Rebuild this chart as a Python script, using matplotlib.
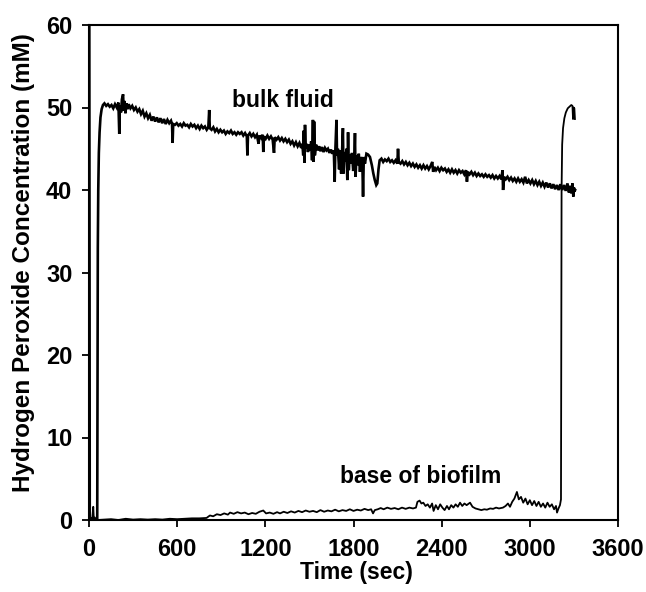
import matplotlib
matplotlib.use("Agg")
import matplotlib.pyplot as plt

# ---- data ----
bulk_t = [56, 57, 58, 60, 63, 67, 72, 78, 86, 95,
          105, 117, 129, 141, 153, 165, 177, 189, 200, 206, 210, 218, 224, 232, 236, 242, 248, 254, 262, 270,
          282, 294, 306, 318, 330, 342, 354, 366, 378, 390, 402, 414, 426, 438, 450, 462, 474, 486, 498, 510,
          522, 534, 546, 558, 565, 569, 573, 585,
          597, 609, 621, 633, 645, 657, 669, 681, 693, 705, 717, 729, 741, 753, 765, 777, 789, 801, 812, 818,
          822, 834, 846, 858, 870, 882, 894, 906, 918, 930, 942, 954, 966, 978, 990, 1002, 1014, 1026, 1038,
          1050, 1062, 1074, 1078, 1082, 1094, 1106,
          1118, 1130, 1142, 1154, 1160, 1172, 1182, 1186, 1190, 1202, 1214, 1226, 1238, 1250, 1259, 1264,
          1276, 1288, 1300, 1312, 1324, 1336, 1348, 1360, 1372, 1384, 1396, 1408, 1420, 1432, 1444, 1452,
          1458, 1462, 1466, 1470, 1475, 1482, 1490, 1498, 1506, 1512, 1518, 1524, 1528, 1532, 1537, 1545,
          1556, 1566, 1575, 1586, 1596, 1606, 1616, 1626, 1636, 1646, 1656, 1666, 1672, 1676, 1684, 1688,
          1694, 1702, 1708, 1716, 1722, 1728, 1732, 1738, 1746, 1752, 1758, 1763, 1768, 1774, 1782, 1790,
          1798, 1806, 1810, 1814, 1820, 1828, 1836, 1844, 1852, 1860, 1865, 1870, 1878, 1888, 1899, 1912,
          1925, 1935, 1945, 1955, 1962, 1970, 1978, 1990, 2002, 2014, 2026, 2038, 2050, 2062, 2074, 2086,
          2098, 2103, 2108, 2120, 2132, 2144, 2156, 2168, 2180, 2192, 2204, 2216, 2228, 2240, 2252, 2264,
          2276, 2288, 2300, 2312, 2324, 2336, 2342, 2350, 2362, 2374, 2386, 2398, 2410, 2422, 2434, 2446,
          2458, 2470, 2482, 2494, 2506, 2518, 2530, 2542, 2554, 2566, 2572, 2578, 2590, 2602, 2614, 2626,
          2638, 2650, 2662, 2674, 2686, 2698, 2710, 2722, 2734, 2746, 2758, 2770, 2782, 2794, 2806, 2814,
          2818, 2824, 2836, 2848, 2860, 2872, 2884, 2896, 2908, 2920, 2932, 2944, 2956, 2968, 2980, 2992,
          3004, 3016, 3028, 3040, 3052, 3064, 3076, 3088, 3100, 3112, 3124, 3136, 3148, 3160, 3172, 3184,
          3196, 3208, 3220, 3232, 3244, 3256, 3266, 3274, 3282, 3290, 3296, 3300, 3304, 3308]
bulk_v = [0, 10, 22, 33, 40, 44.5, 47, 48.8, 49.8, 50.3,
          50.5, 50.2, 50.4, 50.1, 50.3, 49.9, 50.4, 50.0, 50.6, 46.8, 50.2, 49.4, 51.0, 51.6, 49.6, 50.8, 49.3, 50.5, 49.8, 50.4,
          49.9, 50.2, 49.7, 50.0, 49.5, 49.8, 49.2, 49.6, 48.9, 49.3, 48.7, 49.1, 48.4, 48.9, 48.3, 48.8, 48.2, 48.7, 48.1, 48.6,
          48.0, 48.5, 48.1, 48.4, 48.0, 45.7, 48.0, 47.9,
          48.1, 47.8, 48.0, 47.7, 48.1, 47.8, 47.9, 47.6, 48.0, 47.7, 47.9, 47.5, 47.8, 47.4, 47.8, 47.5, 47.7, 47.3, 47.6, 49.7,
          47.5, 47.3, 47.6, 47.1, 47.4, 47.0, 47.3, 47.0, 47.2, 46.8, 47.1, 46.9, 47.2, 46.8, 47.0, 46.7, 47.0, 46.8, 47.0,
          46.6, 46.9, 46.5, 44.2, 46.6, 46.9, 46.5,
          46.8, 46.4, 46.7, 45.6, 46.6, 46.3, 46.7, 44.6, 46.5, 46.2, 46.6, 46.2, 46.5, 46.1, 44.5, 46.4,
          46.1, 46.4, 46.0, 46.3, 45.9, 46.2, 45.8, 46.1, 45.6, 45.9, 45.4, 45.8, 45.3, 45.7, 45.1, 45.6,
          44.2, 47.2, 43.3, 47.9, 45.0, 45.6, 44.6, 45.5, 44.8, 45.9, 43.6, 48.5, 43.4, 48.3, 44.2, 45.5,
          44.8, 45.3, 44.7, 45.2, 44.6, 45.1, 44.8, 45.0, 44.5, 44.9, 44.4, 44.8, 41.0, 44.6, 48.5, 44.2,
          45.0, 42.5, 44.8, 42.0, 44.5, 47.5, 42.0, 44.6, 43.5, 45.0, 41.2, 47.0, 42.4, 44.3, 43.2, 44.5,
          42.3, 44.0, 46.9, 41.6, 44.2, 43.0, 44.4, 42.2, 44.0, 43.5, 39.2, 44.0, 43.2, 44.4, 44.3, 44.0,
          43.0, 42.0, 41.2, 40.6, 40.8, 42.5, 43.6, 43.8, 43.4, 43.7, 43.5, 43.8, 43.4, 43.6, 43.3, 43.6,
          43.2, 45.0, 43.4, 43.2, 43.5, 43.1, 43.4, 43.0, 43.3, 42.9, 43.2, 42.8, 43.1, 42.7, 43.0, 42.6,
          43.0, 42.6, 42.9, 42.5, 42.9, 43.4, 42.2, 42.8, 42.4, 42.7, 42.3, 42.7, 42.4, 42.6, 42.2, 42.5,
          42.1, 42.5, 42.1, 42.4, 42.0, 42.4, 42.1, 42.3, 41.9, 42.4, 41.0, 42.2, 41.9, 42.2, 41.8, 42.1,
          41.7, 42.0, 41.7, 41.9, 41.6, 41.9, 41.6, 41.8, 41.5, 41.8, 41.4, 41.7, 41.4, 41.7, 41.3, 42.4,
          40.0, 41.6, 41.3, 41.6, 41.2, 41.5, 41.1, 41.4, 41.0, 41.4, 41.0, 41.3, 40.9, 41.6, 40.8, 41.2,
          40.8, 41.2, 40.7, 41.1, 40.6, 41.0, 40.5, 40.9, 40.4, 40.9, 40.3, 40.8, 40.2, 40.7, 40.1, 40.6,
          40.0, 40.7, 40.0, 40.6, 39.9, 40.8, 39.7, 40.5, 39.6, 40.8, 39.2, 40.3, 39.8, 40.0]

base_t = [5, 8, 15, 22, 29, 33, 40, 48, 60, 100, 150, 200, 250, 300, 350, 400, 450, 500, 550, 600,
          650, 700, 750, 800, 823, 845, 870, 895, 920, 945, 960, 985, 1010, 1035, 1060, 1085, 1110, 1135,
          1160, 1186, 1205, 1230, 1255, 1280, 1300, 1325, 1350, 1375, 1400, 1425, 1450, 1475, 1500, 1525,
          1550, 1575, 1600, 1625, 1650, 1675, 1700, 1725, 1750, 1775, 1800, 1825, 1850, 1875, 1900, 1920,
          1933, 1945, 1965, 1985, 2005, 2030, 2055, 2080, 2105, 2130, 2155, 2180, 2205, 2225, 2235, 2250,
          2262, 2275, 2290, 2305, 2320, 2335, 2345, 2360, 2375, 2390, 2405, 2420, 2436, 2450, 2465, 2480,
          2495, 2510, 2525, 2540, 2555, 2570, 2593, 2610, 2630, 2650, 2670, 2690, 2708, 2730, 2750, 2770,
          2790, 2817, 2835, 2851, 2865, 2880, 2895, 2912, 2925, 2940, 2955, 2970, 2985, 3000, 3015, 3030,
          3045, 3060, 3075, 3090, 3105, 3120, 3135, 3150, 3165, 3178, 3185, 3195, 3205, 3212, 3216, 3220,
          3226, 3235, 3245, 3258, 3270, 3282, 3290, 3294, 3298, 3303, 3307]
base_v = [60, 0, 0.2, 0.1, 1.6, 0.1, 0.3, 0.0, 0.0, 0.05, 0.1, 0.0, 0.15, 0.05, 0.1, 0.05, 0.1, 0.05, 0.15, 0.1,
          0.15, 0.2, 0.2, 0.25, 0.55, 0.45, 0.7, 0.6, 0.8, 0.65, 0.9, 0.75, 0.95, 0.8, 0.9, 0.7, 0.85, 0.75,
          1.0, 1.15, 0.8, 0.9, 0.75, 0.95, 0.8, 1.0, 0.85, 1.05, 0.9, 1.1, 0.95, 1.15, 1.0, 1.1,
          0.95, 1.2, 1.0, 1.15, 1.05, 1.25, 1.05, 1.2, 1.1, 1.3, 1.1, 1.25, 1.15, 1.35, 1.2, 1.3,
          0.8, 1.2, 1.3, 1.45, 1.3, 1.5, 1.35, 1.45, 1.3, 1.5, 1.35, 1.5, 1.4, 1.5, 2.2, 2.35,
          2.0, 2.1, 1.7, 1.9, 1.5, 2.0, 1.1, 1.8, 1.3, 1.9, 1.5, 1.2, 1.7, 1.3, 1.8, 1.5,
          1.9, 1.6, 2.1, 1.7, 2.0, 1.8, 2.1, 1.6, 1.4, 1.3, 1.2, 1.3, 1.25, 1.4, 1.35, 1.5,
          1.4, 1.5, 1.7, 2.0, 1.6, 2.2, 2.6, 3.4, 2.5, 2.8, 2.1, 2.6, 1.9, 2.4, 1.8, 2.3,
          1.7, 2.2, 1.6, 2.0, 1.5, 2.1, 1.6, 1.9, 1.3, 1.7, 0.9, 1.4, 1.8, 2.5, 40, 45.5,
          47.5, 48.7, 49.4, 49.9, 50.1, 50.3, 50.2, 48.6, 50.0, 49.9, 48.6]

x_ticks = [0, 600, 1200, 1800, 2400, 3000, 3600]
y_ticks = [0, 10, 20, 30, 40, 50, 60]
x_label = "Time (sec)"
y_label = "Hydrogen Peroxide Concentration (mM)"
label_bulk = "bulk fluid"
label_base = "base of biofilm"

plt.rcParams['font.family'] = ['Liberation Sans', 'DejaVu Sans']
plt.rcParams['font.weight'] = 'bold'

W, H = 646, 592
fig = plt.figure(figsize=(W / 100, H / 100), dpi=100)
ax = fig.add_axes([89 / W, (H - 520) / H, (618 - 89) / W, (520 - 25) / H])

ax.plot(bulk_t, bulk_v, color='black', lw=1.9, solid_joinstyle='miter')
ax.plot(base_t, base_v, color='black', lw=1.3)

ax.set_xlim(0, 3600)
ax.set_ylim(0, 60)
ax.set_xticks(x_ticks)
ax.set_yticks(y_ticks)
ax.tick_params(axis='both', direction='out', length=5, width=1.3, labelsize=17)
ax.tick_params(axis='x', pad=8)
ax.tick_params(axis='y', pad=7)
for lab in ax.get_xticklabels() + ax.get_yticklabels():
    lab.set_fontweight('bold')
for s in ax.spines.values():
    s.set_linewidth(1.5)

fig.text(356 / W, 1 - 572 / H, x_label, fontsize=16.5, fontweight='bold', ha='center', va='center')
fig.text(24 / W, 1 - 263 / H, y_label, fontsize=17.5, fontweight='bold', ha='center', va='center',
         rotation=90)

ax.text(1320, 50.9, label_bulk, fontsize=16.5, fontweight='bold', ha='center', va='center')
ax.text(2259, 5.3, label_base, fontsize=16.5, fontweight='bold', ha='center', va='center')

fig.savefig("out.png", dpi=100)
